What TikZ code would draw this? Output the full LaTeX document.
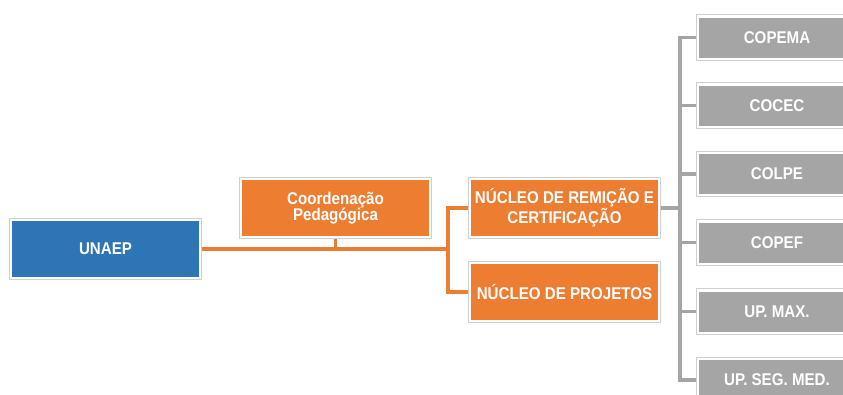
\documentclass[tikz,border=0pt]{standalone}
\usepackage{fontspec}
\setmainfont{Liberation Sans}[FakeStretch=0.89]
\usetikzlibrary{fit}
\definecolor{cblue}{HTML}{2E75B6}
\definecolor{corange}{HTML}{ED7D31}
\definecolor{cgray}{HTML}{A5A5A5}
\definecolor{cframe}{HTML}{CFCFCF}
\begin{document}
\begin{tikzpicture}[x=1pt,y=-1pt,
  boxbase/.style={rectangle, inner sep=0pt, text=white, align=center,
    font=\fontsize{17}{16}\selectfont\bfseries},
  bigbox/.style={boxbase, minimum width=187pt, minimum height=56pt},
  smallbox/.style={boxbase, fill=cgray, minimum width=156pt, minimum height=40pt},
  frame/.style={draw=cframe, line width=0.8pt, inner sep=2.6pt, rectangle},
  oline/.style={draw=corange, line width=3.2pt},
  gline/.style={draw=cgray, line width=3.2pt}]
\useasboundingbox (0,0) rectangle (843,394);
\clip (0,0) rectangle (843,394);
\fill[white] (0,0) rectangle (843,394);
% main boxes
\node[bigbox, fill=cblue] (unaep) at (105.5,249) {UNAEP};
\node[frame, fit=(unaep)] (unaep-f) {};
\node[bigbox, fill=corange] (coord) at (335.5,208) {Coordenação\\Pedagógica};
\node[frame, fit=(coord)] (coord-f) {};
\node[bigbox, fill=corange] (rem) at (564.5,208) {NÚCLEO DE REMIÇÃO E\\CERTIFICAÇÃO};
\node[frame, fit=(rem)] (rem-f) {};
\node[bigbox, fill=corange] (proj) at (564.5,292) {NÚCLEO DE PROJETOS};
\node[frame, fit=(proj)] (proj-f) {};
% gray boxes
\node[smallbox] (copema) at (777,37.5) {COPEMA};
\node[frame, fit=(copema)] (copema-f) {};
\node[smallbox] (cocec) at (777,105.5) {COCEC};
\node[frame, fit=(cocec)] (cocec-f) {};
\node[smallbox] (colpe) at (777,174) {COLPE};
\node[frame, fit=(colpe)] (colpe-f) {};
\node[smallbox] (copef) at (777,242.5) {COPEF};
\node[frame, fit=(copef)] (copef-f) {};
\node[smallbox] (upmax) at (777,311.5) {UP. MAX.};
\node[frame, fit=(upmax)] (upmax-f) {};
\node[smallbox] (upseg) at (777,380) {UP. SEG. MED.};
\node[frame, fit=(upseg)] (upseg-f) {};
% junctions
\coordinate (j1) at (448,249);
\coordinate (j2) at (680,208);
% orange connectors
\draw[oline] (unaep-f.east) -- (j1);
\draw[oline] (coord-f.south) -- (coord-f.south |- j1);
\draw[oline] (rem-f.west) -| (j1) |- (proj-f.west);
% gray connectors
\draw[gline] (rem-f.east) -- (j2);
\draw[gline] (copema-f.west) -| (j2);
\draw[gline] (cocec-f.west) -| (j2);
\draw[gline] (colpe-f.west) -| (j2);
\draw[gline] (copef-f.west) -| (j2);
\draw[gline] (upmax-f.west) -| (j2);
\draw[gline] (upseg-f.west) -| (j2);
\end{tikzpicture}
\end{document}
